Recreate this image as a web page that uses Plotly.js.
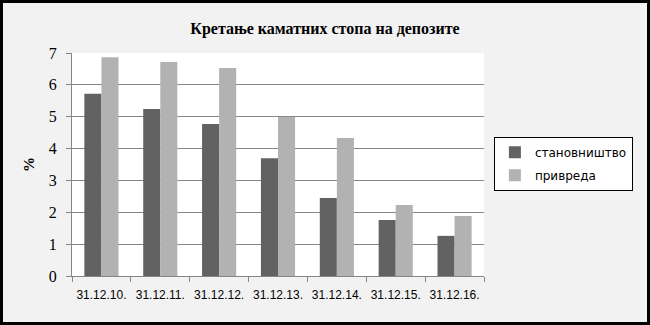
<!DOCTYPE html>
<html><head><meta charset="utf-8">
<script src="https://cdn.plot.ly/plotly-3.0.1.min.js"></script>
<style>
html,body{margin:0;padding:0;background:#fff;}
#wrap{width:650px;height:325px;box-sizing:border-box;border:3px solid #000;background:#f2f2f2;}
#chart{width:644px;height:319px;}
</style></head>
<body><div id="wrap"><div id="chart"></div></div>
<script>
const categories = ["31.12.10.","31.12.11.","31.12.12.","31.12.13.","31.12.14.","31.12.15.","31.12.16."];
const stanovnistvo = [5.72, 5.24, 4.77, 3.70, 2.45, 1.76, 1.26];
const privreda = [6.87, 6.72, 6.53, 4.99, 4.33, 2.23, 1.88];
const seriesNames = ["становништво","привреда"];

const traces = [
  {type:"bar", name:seriesNames[0], legendgroup:"a", x:categories, y:stanovnistvo, marker:{color:"#626262"}},
  {type:"bar", name:seriesNames[1], legendgroup:"b", x:categories, y:privreda, marker:{color:"#b2b2b2"}}
];
const layout = {
  width:644, height:319,
  margin:{l:69, r:163, t:50, b:46},
  paper_bgcolor:"#f2f2f2", plot_bgcolor:"#ffffff",
  barmode:"group", bargap:0.42, bargroupgap:0,
  title:{text:"<b>Кретање каматних стопа на депозите</b>", font:{family:"Liberation Serif", size:16, color:"#000"}, x:0.5, xanchor:"center", y:0.92, yanchor:"middle"},
  xaxis:{type:"category", tickson:"boundaries", ticks:"outside", ticklen:5, tickcolor:"#868686", showline:true, linecolor:"#868686", linewidth:1, showgrid:false,
    tickangle:0, ticklabelstandoff:8, tickfont:{family:"Liberation Sans", size:12, color:"#000"}, fixedrange:true},
  yaxis:{range:[0,7], dtick:1, ticks:"outside", ticklen:5, tickcolor:"#868686", showline:true, linecolor:"#868686", linewidth:1,
    showgrid:true, gridcolor:"#868686", gridwidth:1, zeroline:false, ticklabelstandoff:6,
    tickfont:{family:"Liberation Serif", size:16, color:"#000"},
    title:{text:"<b>%</b>", font:{family:"Liberation Serif", size:15, color:"#000"}, standoff:10}},
  legend:{x:1.024, y:0.625, xanchor:"left", yanchor:"top", bgcolor:"#ffffff", bordercolor:"#000", borderwidth:1,
    font:{family:"DejaVu Sans", size:12, color:"#000"}, tracegroupgap:4},
  showlegend:true
};
Plotly.newPlot("chart", traces, layout, {displayModeBar:false, staticPlot:true});
</script></body></html>
